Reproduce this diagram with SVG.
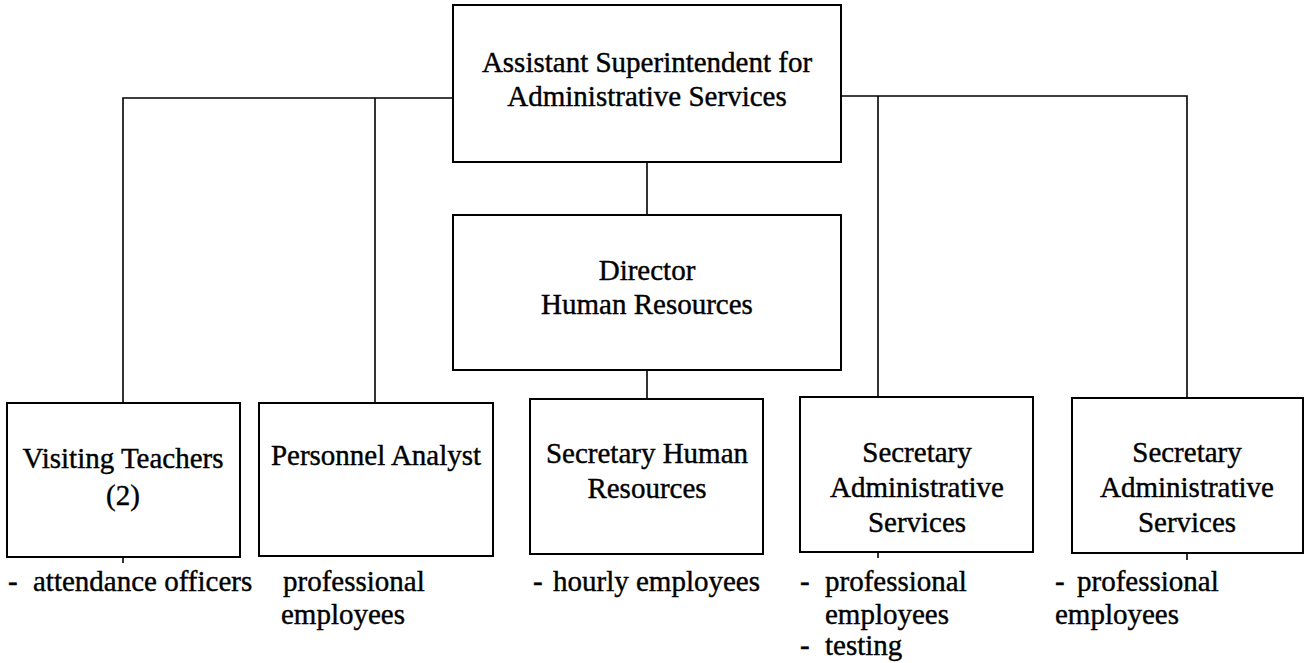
<svg xmlns="http://www.w3.org/2000/svg" width="1309" height="663" viewBox="0 0 1309 663">
<style>
.box{fill:#fff;stroke:#000;stroke-width:2}
.ln{stroke:#000;stroke-width:1.6;fill:none}
.t{font-family:'Liberation Serif','Times New Roman',Tinos,'DejaVu Serif',serif;font-size:29px;fill:#000;stroke:#000;stroke-width:0.4}
.c{text-anchor:middle}
</style>
<rect width="1309" height="663" fill="#fff"/>
<g id="connectors">
<polyline class="ln" points="123,403 123,98 453,98"/>
<line class="ln" x1="375" y1="98" x2="375" y2="403"/>
<polyline class="ln" points="841,96 1187,96 1187,398"/>
<line class="ln" x1="878" y1="96" x2="878" y2="397"/>
<line class="ln" x1="647" y1="162" x2="647" y2="215"/>
<line class="ln" x1="647" y1="370" x2="647" y2="399"/>
<line class="ln" x1="123" y1="557" x2="123" y2="563"/>
<line class="ln" x1="878" y1="552" x2="878" y2="558"/>
<line class="ln" x1="1187" y1="553" x2="1187" y2="560"/>
</g>
<g id="asst-super">
<rect class="box" x="453" y="5" width="388" height="157"/>
<text class="t c" x="647" y="72">Assistant Superintendent for</text>
<text class="t c" x="647" y="106">Administrative Services</text>
</g>
<g id="director-hr">
<rect class="box" x="453" y="215" width="388" height="155"/>
<text class="t c" x="647" y="280">Director</text>
<text class="t c" x="647" y="314">Human Resources</text>
</g>
<g id="visiting-teachers">
<rect class="box" x="7" y="403" width="233" height="154"/>
<text class="t c" x="123" y="468">Visiting Teachers</text>
<text class="t c" x="123" y="505">(2)</text>
<text class="t" x="8" y="591">-</text>
<text class="t" x="33" y="591">attendance officers</text>
</g>
<g id="personnel-analyst">
<rect class="box" x="259" y="403" width="234" height="153"/>
<text class="t c" x="376" y="465">Personnel Analyst</text>
<text class="t" x="283" y="591">professional</text>
<text class="t" x="281" y="624">employees</text>
</g>
<g id="secretary-hr">
<rect class="box" x="530" y="399" width="233" height="155"/>
<text class="t c" x="647" y="463">Secretary Human</text>
<text class="t c" x="647" y="498">Resources</text>
<text class="t" x="533" y="591">-</text>
<text class="t" x="553" y="591">hourly employees</text>
</g>
<g id="secretary-admin-1">
<rect class="box" x="800" y="397" width="233" height="155"/>
<text class="t c" x="917" y="462">Secretary</text>
<text class="t c" x="917" y="497">Administrative</text>
<text class="t c" x="917" y="532">Services</text>
<text class="t" x="800" y="591">-</text>
<text class="t" x="825" y="591">professional</text>
<text class="t" x="825" y="624">employees</text>
<text class="t" x="800" y="655">-</text>
<text class="t" x="825" y="655">testing</text>
</g>
<g id="secretary-admin-2">
<rect class="box" x="1072" y="398" width="231" height="155"/>
<text class="t c" x="1187" y="462">Secretary</text>
<text class="t c" x="1187" y="497">Administrative</text>
<text class="t c" x="1187" y="532">Services</text>
<text class="t" x="1055" y="591">-</text>
<text class="t" x="1077" y="591">professional</text>
<text class="t" x="1055" y="624">employees</text>
</g>
</svg>
